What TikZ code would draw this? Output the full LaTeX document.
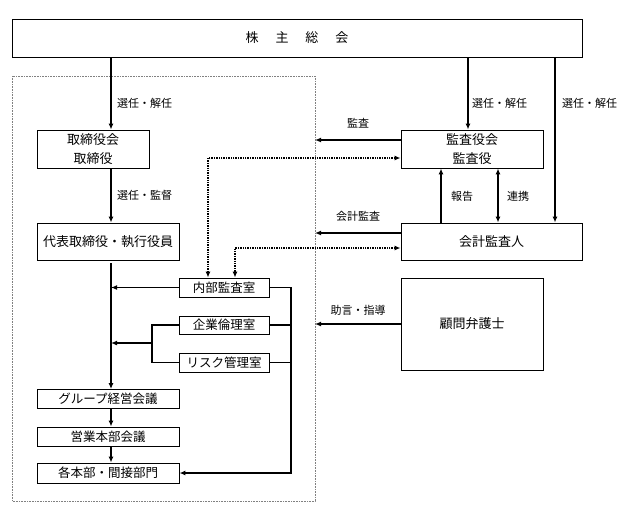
\documentclass[tikz,border=0pt]{standalone}
\usepackage{fontspec}
\setmainfont{Noto Sans CJK JP}
\usetikzlibrary{arrows.meta}
\tikzset{
  box/.style={draw, line width=0.9pt, fill=white, inner sep=0pt, align=center, font=\fontsize{13}{19}\selectfont},
  sbox/.style={box, font=\fontsize{12.5}{13}\selectfont},
  lbl/.style={font=\fontsize{11}{12}\selectfont, inner sep=0pt},
  arr/.style={line width=1.3pt, -{Latex[length=6pt,width=5pt]}},
  ln/.style={line width=1.3pt},
  darr/.style={line width=1.3pt, {Latex[length=6pt,width=5pt]}-{Latex[length=6pt,width=5pt]}},
  dotarr/.style={line width=1.4pt, dash pattern=on 1.3pt off 1.1pt, {Latex[length=6pt,width=5pt]}-{Latex[length=6pt,width=5pt]}},
  frame/.style={draw=gray, line width=0.6pt, dash pattern=on 0.8pt off 0.8pt}
}
\begin{document}
\begin{tikzpicture}[x=1pt,y=-1pt]
\useasboundingbox (0,0) rectangle (629,520);
% container
\draw[frame] (12,76) rectangle (315,501);
% boxes
\node[box, minimum width=570pt, minimum height=38pt] (soukai) at (297,38) {株\hspace{1.3em}主\hspace{1.3em}総\hspace{1.3em}会};
\node[box, minimum width=112pt, minimum height=38pt] (tori) at (93,149) {取締役会\\取締役};
\node[box, minimum width=142pt, minimum height=37pt] (daihyo) at (108,241.5) {代表取締役・執行役員};
\node[box, minimum width=142pt, minimum height=38pt] (kansa) at (472,149) {監査役会\\監査役};
\node[box, minimum width=181pt, minimum height=37pt] (kaikei) at (491.5,241.5) {会計監査人};
\node[box, minimum width=142pt, minimum height=92pt] (bengo) at (472,324) {顧問弁護士};
\node[sbox, minimum width=90pt, minimum height=19pt] (naibu) at (224,287.5) {内部監査室};
\node[sbox, minimum width=90pt, minimum height=18pt] (kigyo) at (224,325) {企業倫理室};
\node[sbox, minimum width=90pt, minimum height=19pt] (risk) at (224,362.5) {リスク管理室};
\node[sbox, minimum width=142pt, minimum height=19pt] (group) at (108,399) {グループ経営会議};
\node[sbox, minimum width=142pt, minimum height=19pt] (eigyo) at (108,436.5) {営業本部会議};
\node[sbox, minimum width=142pt, minimum height=20pt] (kaku) at (108,473) {各本部・間接部門};
% reference coordinates
\coordinate (xa) at (111,0);
\coordinate (xb) at (468,0);
\coordinate (xc) at (555,0);
\coordinate (xd) at (441,0);
\coordinate (xe) at (498,0);
\coordinate (xn1) at (208,0);
\coordinate (xn2) at (235,0);
\coordinate (bus) at (291,0);
\coordinate (brk) at (152,0);
\coordinate (eK) at (315,140);
\coordinate (eA) at (315,233);
\coordinate (eB) at (315,324);
\coordinate (jA) at (111,287.5);
\coordinate (jB) at (111,343);
% shareholders meeting
\draw[arr] (soukai.south -| xa) -- (tori.north -| xa);
\node[lbl, anchor=west] (l1) at (117,103) {選任・解任};
\draw[arr] (soukai.south -| xb) -- (kansa.north -| xb);
\node[lbl, anchor=west] (l2) at (472,103) {選任・解任};
\draw[arr] (soukai.south -| xc) -- (kaikei.north -| xc);
\node[lbl, anchor=west] (l3) at (562,103) {選任・解任};
% board chain
\draw[arr] (tori.south -| xa) -- (daihyo.north -| xa);
\node[lbl, anchor=west] (l4) at (117,195) {選任・監督};
\draw[arr] ([yshift=-3pt]daihyo.south -| xa) -- (group.north -| xa);
\draw[arr] (naibu.west) -- (jA);
\draw[ln] (kigyo.west) -| (brk |- risk.west) -- (risk.west);
\draw[arr] (brk |- jB) -- (jB);
\draw[arr] (group.south -| xa) -- (eigyo.north -| xa);
\draw[arr] (eigyo.south -| xa) -- (kaku.north -| xa);
% right bus
\draw[ln] (kigyo.east) -- (kigyo.east -| bus);
\draw[ln] (risk.east) -- (risk.east -| bus);
\draw[arr] (naibu.east) -| (bus |- kaku.east) -- (kaku.east);
% auditors
\draw[arr] (kansa.west |- eK) -- (eK);
\node[lbl] (l5) at (358,123) {監査};
\draw[arr] (kaikei.west |- eA) -- (eA);
\node[lbl] (l6) at (358,216) {会計監査};
\draw[arr] (kaikei.north -| xd) -- (kansa.south -| xd);
\node[lbl] (l7) at (462,196) {報告};
\draw[darr] (kaikei.north -| xe) -- (kansa.south -| xe);
\node[lbl] (l8) at (518,196) {連携};
\draw[arr] (bengo.west) -- (eB);
\node[lbl] (l9) at (358,310) {助言・指導};
% dotted
\draw[dotarr] (kansa.west |- 0,158) -| (naibu.north -| xn1);
\draw[dotarr] (kaikei.west |- 0,248) -| (naibu.north -| xn2);
\end{tikzpicture}
\end{document}
